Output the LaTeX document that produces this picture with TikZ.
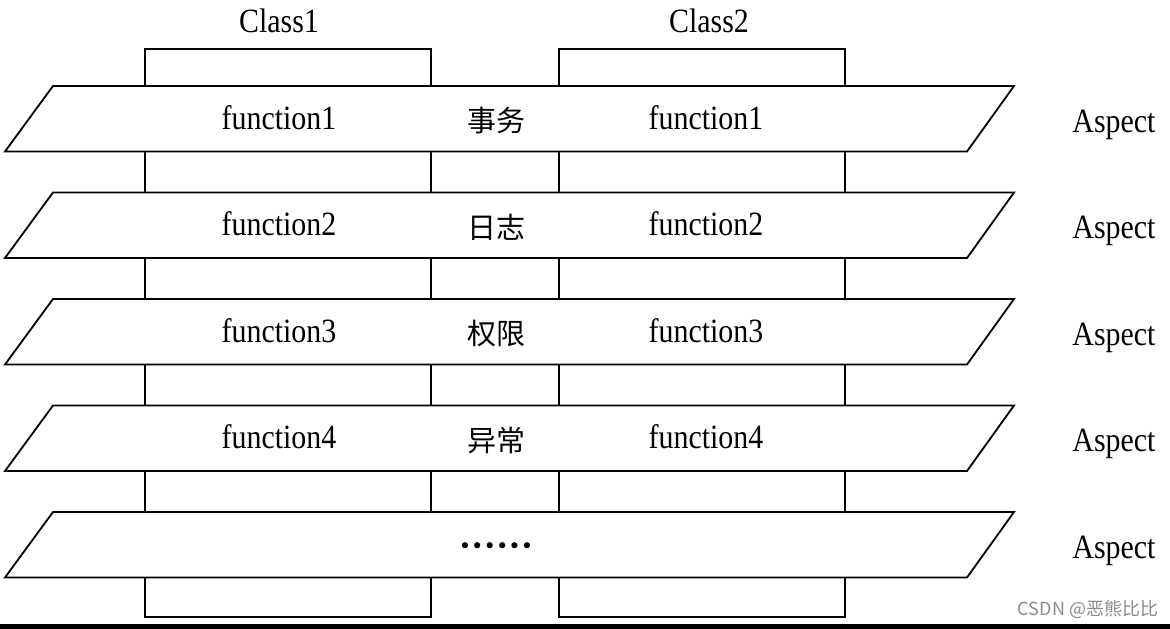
\documentclass[tikz,border=0pt]{standalone}
\usepackage{fontspec}
\setmainfont{Liberation Serif}[FakeStretch=0.88]
\newfontfamily\cjk{Noto Sans CJK SC}
\newfontfamily\dejavu{DejaVu Sans}
\begin{document}
\begin{tikzpicture}[x=1pt,y=-1pt,line width=1.8pt,
  txt/.style={font=\fontsize{34}{40}\selectfont, inner sep=0pt, anchor=base},
  cntxt/.style={font=\cjk\fontsize{29}{34}\selectfont, inner sep=0pt},
  classbox/.style={draw=black, fill=white, inner sep=0pt, minimum width=286pt, minimum height=568pt},
  layer/.style={draw=black, fill=white, line join=miter}]
\fill[white] (0,0) rectangle (1170,629);
\useasboundingbox (0,0) rectangle (1170,629);
\node[classbox] (c1) at (288,333) {};
\node[classbox] (c2) at (702,333) {};
\node[txt] (l1) at (279,32) {Class1};
\node[txt] (l2) at (709,32) {Class2};
\foreach \k/\a/\b in {0/1/事务,1/2/日志,2/3/权限,3/4/异常}{
  \pgfmathsetmacro\t{86+106.5*\k}
  \pgfmathsetmacro\bt{\t+65.5}
  \draw[layer] (5,\bt) -- (53,\t) -- (1014,\t) -- (967,\bt) -- cycle;
  \node[txt] (fl\a) at (279,\t+43.3) {function\a};
  \node[txt] (fr\a) at (706,\t+43.3) {function\a};
  \node[cntxt] (cn\a) at (496.5,\t+35) {\b};
  \node[txt] (asp\a) at (1114,\t+46.3) {Aspect};
}
\draw[layer] (5,577.5) -- (53,512) -- (1014,512) -- (967,577.5) -- cycle;
\node[font=\dejavu\fontsize{21}{24}\selectfont, inner sep=0pt, anchor=base] (dots) at (496,553) {••••••};
\node[txt] (asp5) at (1114,558.3) {Aspect};
\node[font=\cjk\fontsize{18}{20}\selectfont, text=black!45, inner sep=0pt] (wm) at (1088,609) {CSDN @恶熊比比};
\fill[black] (0,623.5) rectangle (1170,629);
\end{tikzpicture}
\end{document}
